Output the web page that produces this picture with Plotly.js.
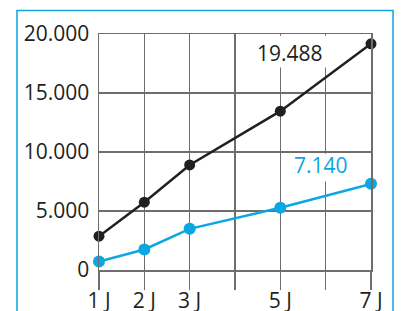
<!DOCTYPE html>
<html>
<head>
<meta charset="utf-8">
<script src="https://cdn.plot.ly/plotly-3.0.1.min.js"></script>
<style>
html,body{margin:0;padding:0;background:#fff;}
#chart{width:401px;height:311px;}
</style>
</head>
<body>
<div id="chart"></div>
<script>
// Data
const days = [1, 2, 3, 5, 7];
const seriesBlack = [2865, 5746, 8900, 13460, 19170];
const seriesBlue = [720, 1737, 3490, 5270, 7300];
const xTickVals = [1, 2, 3, 4, 5, 6, 7];
const xTickText = ['1 J', '2 J', '3 J', '', '5 J', '', '7 J'];
const yTickVals = [0, 5000, 10000, 15000, 20000];
const yTickText = ['0', '5.000', '10.000', '15.000', '20.000'];
const labelBlack = '19.488';
const labelBlue = '7.140';

const dark = '#231f20';
const cyan = '#0aa7e2';
const grid = '#6f6d6d';
const font = 'Open Sans, Noto Sans, sans-serif';

const traces = [
  {x: days, y: seriesBlack, type: 'scatter', mode: 'lines+markers',
   line: {color: dark, width: 2.5}, marker: {color: dark, size: 11}, cliponaxis: false, hoverinfo: 'none'},
  {x: days, y: seriesBlue, type: 'scatter', mode: 'lines+markers',
   line: {color: cyan, width: 2.5}, marker: {color: cyan, size: 12}, cliponaxis: false, hoverinfo: 'none'}
];

const layout = {
  width: 401, height: 311,
  margin: {l: 99, r: 30, t: 34, b: 41, pad: 0},
  paper_bgcolor: '#fff', plot_bgcolor: '#fff',
  showlegend: false,
  font: {family: font, color: dark, size: 21},
  xaxis: {
    range: [1, 7], tickvals: xTickVals, ticktext: xTickText,
    showgrid: true, gridcolor: grid, gridwidth: 1.5,
    ticks: 'outside', ticklen: 18, tickwidth: 1.5, tickcolor: grid,
    ticklabelstandoff: -7,
    zeroline: false, showline: true, mirror: true, linecolor: grid, linewidth: 1.5,
    fixedrange: true,
    tickfont: {family: font, size: 21, color: dark}
  },
  yaxis: {
    range: [0, 20000], tickvals: yTickVals, ticktext: yTickText,
    showgrid: true, gridcolor: grid, gridwidth: 1.5,
    ticks: '', ticklabelstandoff: 4,
    zeroline: false, showline: true, mirror: true, linecolor: grid, linewidth: 1.5,
    fixedrange: true,
    tickfont: {family: font, size: 21, color: dark}
  },
  shapes: [
    {type: 'rect', xref: 'x', yref: 'y', x0: 4.3, x1: 6.6, y0: 17160, y1: 19860,
     fillcolor: '#fff', line: {width: 0}, layer: 'between'},
    {type: 'rect', xref: 'x', yref: 'y', x0: 5.4, x1: 6.6, y0: 7500, y1: 9860,
     fillcolor: '#fff', line: {width: 0}, layer: 'between'},
    {type: 'rect', xref: 'paper', yref: 'paper', x0: -0.3015, x1: 1.081, y0: -0.3, y1: 1.0996,
     fillcolor: 'rgba(0,0,0,0)', line: {color: cyan, width: 1.5}, layer: 'above'}
  ],
  annotations: [
    {x: 5.21, y: 18350, xref: 'x', yref: 'y', text: labelBlack, showarrow: false,
     font: {family: font, size: 21, color: dark}},
    {x: 5.89, y: 8900, xref: 'x', yref: 'y', text: labelBlue, showarrow: false,
     font: {family: font, size: 21, color: cyan}}
  ]
};

Plotly.newPlot('chart', traces, layout, {displayModeBar: false, staticPlot: true});
</script>
</body>
</html>
